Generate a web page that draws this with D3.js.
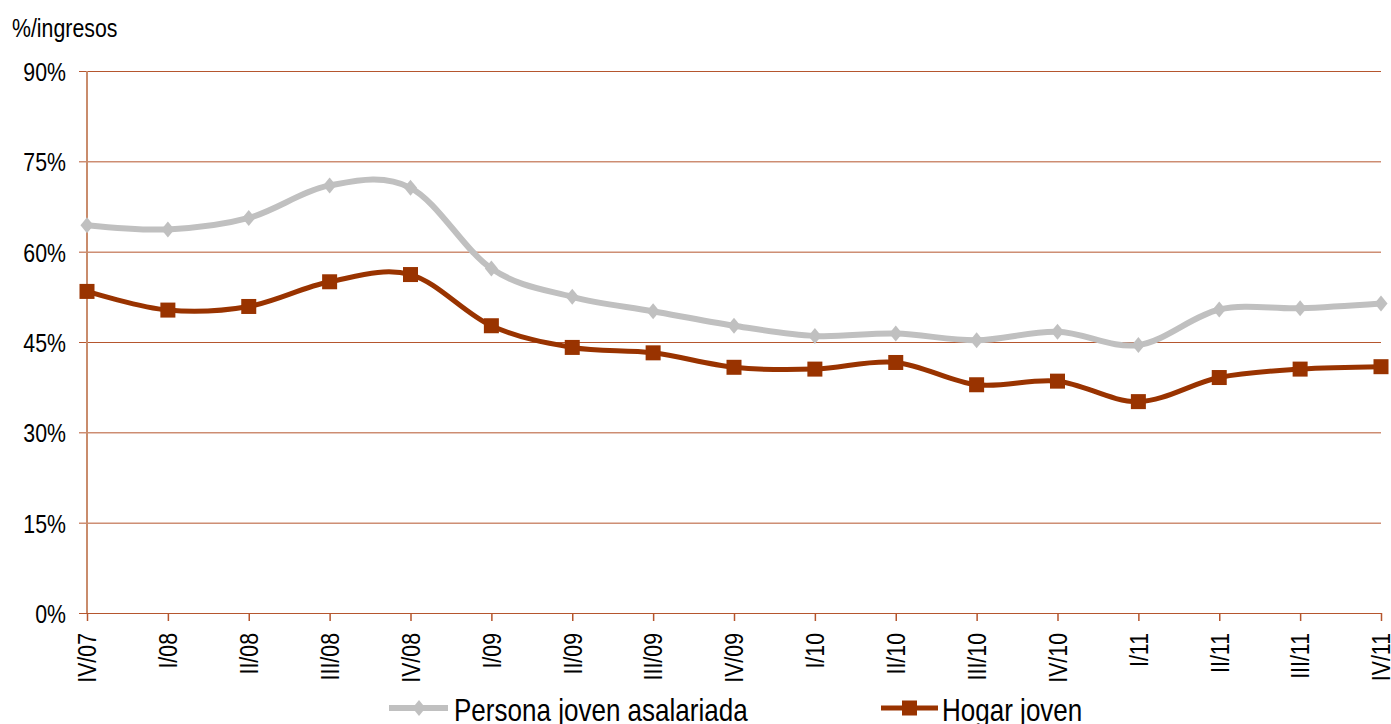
<!DOCTYPE html>
<html>
  <head>
    <meta charset="utf-8">
    <title>Esfuerzo de acceso</title>
    <script src="https://d3js.org/d3.v7.min.js"></script>
    <style>
      body { margin: 0; background: #fff; }
      text { font-family: "Liberation Sans", Arial, sans-serif; fill: #000; }
    </style>
  </head>
  <body>
    <div id="vis"></div>
    <script>
      // quarters on the x axis
      const quarters = ["IV/07", "I/08", "II/08", "III/08", "IV/08", "I/09", "II/09", "III/09", "IV/09",
                        "I/10", "II/10", "III/10", "IV/10", "I/11", "II/11", "III/11", "IV/11"];
      // % of income
      const persona = [64.4, 63.7, 65.6, 71.0, 70.6, 57.2, 52.5, 50.1, 47.7, 46.0, 46.4, 45.3, 46.7, 44.5, 50.4, 50.6, 51.4];
      const hogar = [53.4, 50.3, 50.9, 55.0, 56.2, 47.7, 44.1, 43.2, 40.8, 40.5, 41.6, 37.9, 38.5, 35.1, 39.1, 40.5, 40.9];
      const yTicks = [0, 15, 30, 45, 60, 75, 90];
      const seriesNames = ["Persona joven asalariada", "Hogar joven"];

      const width = 1391;
      const height = 724;
      const gridColor = "#b5562e";
      const narrow = 0.82; // the original font is a narrow sans

      let vis = d3.select("#vis")
                  .append("svg")
                  .attr("width", width)
                  .attr("height", height);

      let x = d3.scalePoint().domain(quarters).range([87, 1381]);
      let y = d3.scaleLinear().domain([0, 90]).range([613, 71]);

      // y axis: gridlines + labels
      let yAxis = d3.axisLeft(y)
                    .tickValues(yTicks)
                    .tickSize(-(1381 - 79))
                    .tickFormat(d => d + "%");
      let gy = vis.append("g")
                  .attr("transform", "translate(79,0)")
                  .call(yAxis);
      gy.select(".domain").remove();
      gy.selectAll(".tick line").attr("stroke", gridColor).attr("stroke-width", 1);
      gy.selectAll(".tick text")
        .attr("font-size", 26)
        .attr("x", 0)
        .attr("dy", "0.36em")
        .attr("transform", "translate(-13,0) scale(" + narrow + ",1)");

      // left axis line
      vis.append("line")
         .attr("x1", 87).attr("x2", 87)
         .attr("y1", y(90)).attr("y2", y(0))
         .attr("stroke", "#c98c6c")
         .attr("stroke-width", 2);

      // x axis
      let xAxis = d3.axisBottom(x).tickSize(8);
      let gx = vis.append("g")
                  .attr("transform", "translate(0," + y(0) + ")")
                  .call(xAxis);
      gx.select(".domain").remove();
      gx.selectAll(".tick line").attr("stroke", gridColor).attr("stroke-width", 1.5);
      gx.selectAll(".tick text")
        .attr("font-size", 26)
        .attr("text-anchor", "end")
        .attr("x", 0)
        .attr("y", 0)
        .attr("dy", "0.34em")
        .attr("transform", "rotate(-90) translate(-20,0) scale(" + narrow + ",1)");

      vis.append("text")
         .attr("transform", "translate(12,37) scale(" + narrow + ",1)")
         .attr("font-size", 26)
         .text("%/ingresos");

      const line = d3.line()
                     .x((d, i) => x(quarters[i]))
                     .y(d => y(d))
                     .curve(d3.curveCatmullRom.alpha(0));

      const diamond = d3.symbol(d3.symbolSquare, 128);

      // Persona joven asalariada
      vis.append("path")
         .datum(persona)
         .attr("d", line)
         .attr("fill", "none")
         .attr("stroke", "#c0c0c0")
         .attr("stroke-width", 6);

      vis.append("g")
         .selectAll("path")
         .data(persona)
         .enter()
         .append("path")
         .attr("d", diamond)
         .attr("transform", (d, i) => "translate(" + x(quarters[i]) + "," + y(d) + ") scale(0.82,1) rotate(45)")
         .attr("fill", "#c0c0c0");

      // Hogar joven
      vis.append("path")
         .datum(hogar)
         .attr("d", line)
         .attr("fill", "none")
         .attr("stroke", "#993300")
         .attr("stroke-width", 5);

      vis.append("g")
         .selectAll("rect")
         .data(hogar)
         .enter()
         .append("rect")
         .attr("x", (d, i) => x(quarters[i]) - 7.5)
         .attr("y", d => y(d) - 7.5)
         .attr("width", 15)
         .attr("height", 15)
         .attr("fill", "#993300");

      // legend
      let legend = vis.append("g");
      let leg1 = legend.append("g").attr("transform", "translate(389,708)");
      leg1.append("line").attr("x1", 0).attr("x2", 59).attr("stroke", "#c0c0c0").attr("stroke-width", 6);
      leg1.append("path")
          .attr("d", diamond)
          .attr("transform", "translate(30,0) scale(0.82,1) rotate(45)")
          .attr("fill", "#c0c0c0");
      leg1.append("text")
          .attr("transform", "translate(65,13) scale(0.84,1)")
          .attr("font-size", 31)
          .text(seriesNames[0]);

      let leg2 = legend.append("g").attr("transform", "translate(881,708)");
      leg2.append("line").attr("x1", 0).attr("x2", 57).attr("stroke", "#993300").attr("stroke-width", 5);
      leg2.append("rect").attr("x", 21).attr("y", -7.5).attr("width", 15).attr("height", 15).attr("fill", "#993300");
      leg2.append("text")
          .attr("transform", "translate(61,13) scale(0.84,1)")
          .attr("font-size", 31)
          .text(seriesNames[1]);
    </script>
  </body>
</html>
